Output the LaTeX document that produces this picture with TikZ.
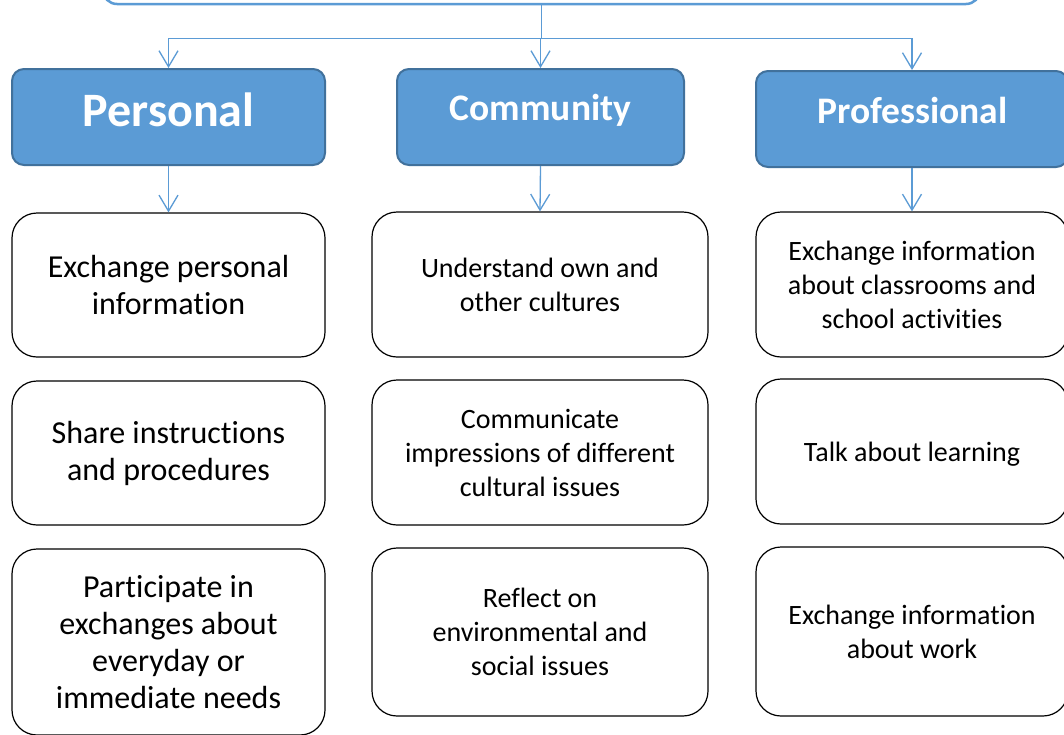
\documentclass[tikz,border=0pt]{standalone}
\usepackage{fontspec}
\setmainfont{Carlito}[Ligatures={NoCommon,NoRequired,NoContextual}]
\usetikzlibrary{arrows.meta}
\definecolor{hdrfill}{HTML}{5B9BD5}
\definecolor{hdrline}{HTML}{41719C}
\begin{document}
\begin{tikzpicture}[x=1pt,y=-1pt,
  topbox/.style={draw=hdrfill, line width=2.5pt, fill=white, rounded corners=14pt, inner sep=0pt},
  hdrbox/.style={draw=hdrline, line width=2pt, fill=hdrfill, rounded corners=12pt, inner sep=0pt},
  hdrtext/.style={text=white, anchor=base, inner sep=0pt},
  itembox/.style={draw=black, line width=1.2pt, fill=white, rounded corners=25pt, inner sep=0pt, align=center},
  bigtext/.style={font=\fontsize{32}{37}\selectfont},
  smalltext/.style={font=\fontsize{28}{34}\selectfont},
  conn/.style={draw=hdrfill, line width=1.3pt, -{Straight Barb[length=16pt,width=19pt,line width=1.3pt]}}
]
\useasboundingbox (0,0) rectangle (1064,734);
\begin{scope}
\clip (0,0) rectangle (1064,734);
\fill[white] (0,0) rectangle (1064,734);
% top box
\node[topbox, minimum width=877pt, minimum height=44pt] (top) at (541.5,-18) {};
% headers
\node[hdrbox, minimum width=313pt, minimum height=96pt] (hp) at (168.5,117) {};
\node[hdrbox, minimum width=287pt, minimum height=96pt] (hc) at (540.5,117) {};
\node[hdrbox, minimum width=312pt, minimum height=96pt] (hr) at (912,119) {};
\node[hdrtext, font=\fontsize{48}{52}\bfseries\selectfont] (tp) at (168.5,126) {Personal};
\node[hdrtext, font=\fontsize{37.5}{40}\bfseries\selectfont] (tc) at (540.5,120) {Community};
\node[hdrtext, font=\fontsize{37.5}{40}\bfseries\selectfont] (tr) at (912.5,123) {Professional};
% items
\node[itembox, bigtext, minimum width=313pt, minimum height=144pt] (c11) at (168.5,285) {Exchange personal\\information};
\node[itembox, bigtext, minimum width=313pt, minimum height=144pt] (c12) at (168.5,453) {Share instructions\\and procedures};
\node[itembox, bigtext, minimum width=313pt, minimum height=186pt] (c13) at (168.5,642) {Participate in\\exchanges about\\everyday or\\immediate needs};
\node[itembox, smalltext, minimum width=336pt, minimum height=145pt] (c21) at (540,284.5) {Understand own and\\other cultures};
\node[itembox, smalltext, minimum width=336pt, minimum height=145pt] (c22) at (540,452.5) {Communicate\\impressions of different\\cultural issues};
\node[itembox, smalltext, minimum width=336pt, minimum height=168pt] (c23) at (540,632) {Reflect on\\environmental and\\social issues};
\node[itembox, smalltext, minimum width=312pt, minimum height=145pt] (c31) at (912,284.5) {Exchange information\\about classrooms and\\school activities};
\node[itembox, smalltext, minimum width=312pt, minimum height=145pt, text depth=0pt] (c32) at (912,451.5) {Talk about learning};
\node[itembox, smalltext, minimum width=312pt, minimum height=169pt] (c33) at (912,631.5) {Exchange information\\about work};
% connectors
\draw[conn] (top.south) -- ++(0,33) -| (hp.north);
\draw[conn] (top.south) -- ++(0,33) -| (hc.north);
\draw[conn] (top.south) -- ++(0,33) -| (hr.north);
\draw[conn] (hp.south) -- (c11.north);
\draw[conn] (hc.south) -- (c21.north);
\draw[conn] (hr.south) -- (c31.north);
\end{scope}
\end{tikzpicture}
\end{document}
